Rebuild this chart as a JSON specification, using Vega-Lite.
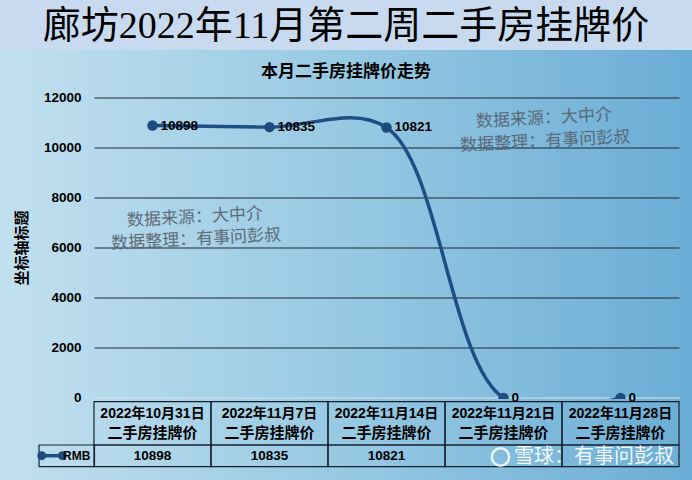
{
  "$schema": "https://vega.github.io/schema/vega-lite/v6.json",
  "width": 692,
  "height": 480,
  "autosize": {"type": "fit", "contains": "padding"},
  "padding": 0,
  "background": "#c8daf0",
  "config": {
    "view": {"stroke": null},
    "axis": {"disable": true},
    "text": {"font": "Noto Sans CJK SC", "color": "#000000", "baseline": "middle"}
  },
  "datasets": {
    "prices": [
      {"n": 1, "week": "2022年10月31日", "price": 10898},
      {"n": 2, "week": "2022年11月7日", "price": 10835},
      {"n": 3, "week": "2022年11月14日", "price": 10821},
      {"n": 4, "week": "2022年11月21日", "price": 0},
      {"n": 5, "week": "2022年11月28日", "price": 0}
    ],
    "grid": [{"v": 0}, {"v": 2000}, {"v": 4000}, {"v": 6000}, {"v": 8000}, {"v": 10000}, {"v": 12000}],
    "one": [{}]
  },
  "resolve": {"scale": {"x": "independent"}},
  "layer": [
    {
      "data": {"name": "one"},
      "layer": [
        {
          "mark": {
            "type": "rect",
            "fill": {
              "gradient": "linear", "x1": 0, "y1": 0, "x2": 1, "y2": 0,
              "stops": [
                {"offset": 0, "color": "#c2e0ef"},
                {"offset": 0.5, "color": "#97c9e3"},
                {"offset": 1, "color": "#6badd5"}
              ]
            }
          },
          "encoding": {
            "x": {"datum": -1.30769, "type": "quantitative", "scale": {"domain": [-1.30769, 4.60684], "nice": false, "zero": false}},
            "x2": {"datum": 4.60684},
            "y": {"datum": -3280, "type": "quantitative", "scale": {"domain": [-3280, 15920], "nice": false, "zero": false}},
            "y2": {"datum": 13920}
          }
        },
        {
          "data": {"name": "grid"},
          "mark": {"type": "rule", "strokeWidth": 1},
          "encoding": {
            "x": {"datum": -0.5, "type": "quantitative"},
            "x2": {"datum": 4.5},
            "y": {"field": "v", "type": "quantitative"},
            "color": {"condition": {"test": "datum.v == 0", "value": "#d6e4ee"}, "value": "#1c2734"}
          }
        },
        {
          "data": {"name": "grid"},
          "mark": {"type": "text", "font": "Liberation Sans", "fontWeight": "bold", "fontSize": 13.5, "align": "right"},
          "encoding": {
            "x": {"datum": -0.61, "type": "quantitative"},
            "y": {"field": "v", "type": "quantitative"},
            "text": {"field": "v", "type": "quantitative", "format": "d"}
          }
        },
        {
          "mark": {"type": "text", "fontWeight": "bold", "fontSize": 15, "angle": -90},
          "encoding": {
            "x": {"datum": -1.118, "type": "quantitative"},
            "y": {"datum": 6000, "type": "quantitative"},
            "text": {"value": "坐标轴标题"}
          }
        },
        {
          "mark": {"type": "text", "font": "Liberation Serif, Noto Sans CJK SC", "fontSize": 38},
          "encoding": {
            "x": {"datum": 1.65, "type": "quantitative"},
            "y": {"datum": 14840, "type": "quantitative"},
            "text": {"value": "廊坊2022年11月第二周二手房挂牌价"}
          }
        },
        {
          "mark": {"type": "text", "fontSize": 17, "fontWeight": "bold"},
          "encoding": {
            "x": {"datum": 1.65, "type": "quantitative"},
            "y": {"datum": 13040, "type": "quantitative"},
            "text": {"value": "本月二手房挂牌价走势"}
          }
        },
        {
          "mark": {"type": "text", "fontSize": 17, "lineHeight": 22, "angle": -3, "color": "#56626e", "opacity": 0.9, "lineBreak": "\n"},
          "encoding": {
            "x": {"datum": 0.359, "type": "quantitative"},
            "y": {"datum": 7220, "type": "quantitative"},
            "text": {"value": "数据来源：大中介\n数据整理：有事问彭叔"}
          }
        },
        {
          "mark": {"type": "text", "fontSize": 17, "lineHeight": 23, "angle": -3, "color": "#56626e", "opacity": 0.9, "lineBreak": "\n"},
          "encoding": {
            "x": {"datum": 3.342, "type": "quantitative"},
            "y": {"datum": 11180, "type": "quantitative"},
            "text": {"value": "数据来源：大中介\n数据整理：有事问彭叔"}
          }
        }
      ]
    },
    {
      "data": {"name": "prices"},
      "encoding": {
        "x": {
          "field": "week", "type": "ordinal", "bandPosition": 0.5,
          "scale": {
            "type": "band",
            "domain": ["2022年10月31日", "2022年11月7日", "2022年11月14日", "2022年11月21日", "2022年11月28日"],
            "paddingInner": 0, "paddingOuter": 0.45726, "align": 0.8785
          }
        },
        "y": {"field": "price", "type": "quantitative"}
      },
      "layer": [
        {
          "mark": {"type": "line", "interpolate": "catmull-rom", "color": "#1f4e86", "strokeWidth": 3.5},
          "encoding": {"order": {"field": "n"}}
        },
        {
          "mark": {"type": "point", "filled": true, "opacity": 1, "size": 110, "color": "#1f4a7e"}
        }
      ]
    },
    {
      "data": {"name": "one"},
      "mark": {
        "type": "rect",
        "fill": {
          "gradient": "linear", "x1": -0.16154, "y1": 0, "x2": 1.02137, "y2": 0,
          "stops": [
            {"offset": 0, "color": "#c2e0ef"},
            {"offset": 0.5, "color": "#97c9e3"},
            {"offset": 1, "color": "#6badd5"}
          ]
        }
      },
      "encoding": {
        "x": {"datum": -0.5, "type": "quantitative", "scale": {"domain": [-1.30769, 4.60684], "nice": false, "zero": false}},
        "x2": {"datum": 4.5},
        "y": {"datum": -40, "type": "quantitative"},
        "y2": {"datum": -2748}
      }
    },
    {
      "data": {"name": "prices"},
      "encoding": {
        "x": {
          "field": "week", "type": "ordinal", "bandPosition": 0.5,
          "scale": {
            "type": "band",
            "domain": ["2022年10月31日", "2022年11月7日", "2022年11月14日", "2022年11月21日", "2022年11月28日"],
            "paddingInner": 0, "paddingOuter": 0.45726, "align": 0.8785
          }
        }
      },
      "layer": [
        {
          "mark": {"type": "rect", "fillOpacity": 0, "stroke": "#17212c", "strokeWidth": 1.2},
          "encoding": {
            "x": {"field": "week", "type": "ordinal"},
            "y": {"datum": -148, "type": "quantitative"},
            "y2": {"datum": -1880}
          }
        },
        {
          "mark": {"type": "rect", "fillOpacity": 0, "stroke": "#17212c", "strokeWidth": 1.2},
          "encoding": {
            "x": {"field": "week", "type": "ordinal"},
            "y": {"datum": -1880, "type": "quantitative"},
            "y2": {"datum": -2748}
          }
        },
        {
          "mark": {"type": "text", "font": "Liberation Sans, Noto Sans CJK SC", "fontWeight": "bold", "fontSize": 14},
          "encoding": {
            "y": {"datum": -640, "type": "quantitative"},
            "text": {"field": "week"}
          }
        },
        {
          "mark": {"type": "text", "fontWeight": "bold", "fontSize": 15},
          "encoding": {
            "y": {"datum": -1388, "type": "quantitative"},
            "text": {"value": "二手房挂牌价"}
          }
        },
        {
          "transform": [{"filter": "datum.price > 0"}],
          "mark": {"type": "text", "font": "Liberation Sans", "fontWeight": "bold", "fontSize": 13.5},
          "encoding": {
            "y": {"datum": -2308, "type": "quantitative"},
            "text": {"field": "price", "type": "quantitative", "format": "d"}
          }
        },
        {
          "mark": {"type": "text", "font": "Liberation Sans", "fontWeight": "bold", "fontSize": 13.5, "align": "left", "dx": 8},
          "encoding": {
            "y": {"field": "price", "type": "quantitative"},
            "text": {"field": "price", "type": "quantitative", "format": "d"}
          }
        }
      ]
    },
    {
      "data": {"name": "one"},
      "layer": [
        {
          "mark": {"type": "rect", "fillOpacity": 0, "stroke": "#17212c", "strokeWidth": 1.2},
          "encoding": {
            "x": {"datum": -0.974, "type": "quantitative", "scale": {"domain": [-1.30769, 4.60684], "nice": false, "zero": false}},
            "x2": {"datum": -0.5},
            "y": {"datum": -1880, "type": "quantitative"},
            "y2": {"datum": -2748}
          }
        },
        {
          "mark": {"type": "rule", "color": "#1f4e86", "strokeWidth": 3.5},
          "encoding": {
            "x": {"datum": -0.951, "type": "quantitative"},
            "x2": {"datum": -0.775},
            "y": {"datum": -2308, "type": "quantitative"}
          }
        },
        {
          "mark": {"type": "point", "filled": true, "opacity": 1, "size": 80, "color": "#1f4a7e"},
          "encoding": {
            "x": {"datum": -0.951, "type": "quantitative"},
            "y": {"datum": -2308, "type": "quantitative"}
          }
        },
        {
          "mark": {"type": "point", "filled": true, "opacity": 1, "size": 80, "color": "#1f4a7e"},
          "encoding": {
            "x": {"datum": -0.775, "type": "quantitative"},
            "y": {"datum": -2308, "type": "quantitative"}
          }
        },
        {
          "mark": {"type": "text", "font": "Liberation Sans", "fontWeight": "bold", "fontSize": 12, "align": "right"},
          "encoding": {
            "x": {"datum": -0.535, "type": "quantitative"},
            "y": {"datum": -2308, "type": "quantitative"},
            "text": {"value": "RMB"}
          }
        },
        {
          "mark": {"type": "point", "filled": false, "size": 300, "strokeWidth": 2.5, "color": "#ffffff", "opacity": 0.85},
          "encoding": {
            "x": {"datum": 2.97, "type": "quantitative"},
            "y": {"datum": -2360, "type": "quantitative"}
          }
        },
        {
          "mark": {"type": "text", "fontSize": 20, "color": "#ffffff", "opacity": 0.9},
          "encoding": {
            "x": {"datum": 3.77, "type": "quantitative"},
            "y": {"datum": -2360, "type": "quantitative"},
            "text": {"value": "雪球：有事问彭叔"}
          }
        }
      ]
    }
  ]
}
